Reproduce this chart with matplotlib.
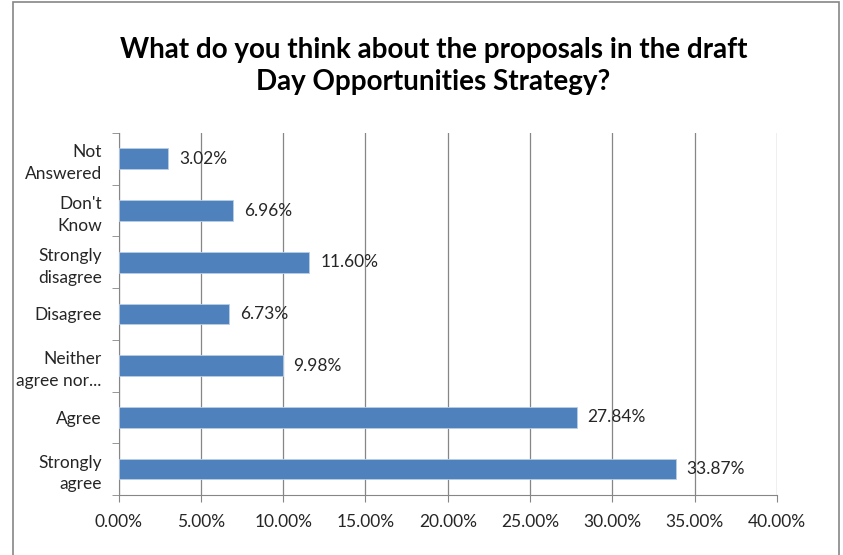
import matplotlib.pyplot as plt
from matplotlib.patches import Rectangle
import numpy as np

categories = ['Strongly\nagree', 'Agree', 'Neither\nagree nor...', 'Disagree',
              'Strongly\ndisagree', "Don't\nKnow", 'Not\nAnswered']
values = [33.87, 27.84, 9.98, 6.73, 11.60, 6.96, 3.02]
xticks = [0, 5, 10, 15, 20, 25, 30, 35, 40]

plt.rcParams['font.family'] = ['Lato', 'DejaVu Sans']

fig = plt.figure(figsize=(8.43, 5.55), dpi=100)
ax = fig.add_axes([0.1406, 0.1081, 0.7811, 0.6523])

# chart border like the Excel frame
fig.patches.append(Rectangle((13 / 843, -0.01), (839 - 13) / 843, 1 - 2 / 555 + 0.01,
                             transform=fig.transFigure, fill=False,
                             edgecolor='#868686', linewidth=1.2))

y = np.arange(len(categories))
ax.barh(y, values, height=0.4, color='#4F81BD', edgecolor='#B9CDE5', linewidth=0.6, zorder=3)

for yi, v in zip(y, values):
    ax.text(v + 0.65, yi, '{:.2f}%'.format(v), va='center', ha='left',
            fontsize=12.5, color='#262626', zorder=4)

ax.set_xlim(0, 40)
ax.set_ylim(-0.5, len(categories) - 0.5)
ax.set_xticks(xticks)
ax.set_xticklabels(['{:.2f}%'.format(t) for t in xticks], fontsize=12.5, color='#262626')
ax.set_yticks(y)
ax.set_yticklabels(categories, fontsize=12.5, color='#262626', linespacing=1.45)
ax.set_yticks(np.arange(len(categories) + 1) - 0.5, minor=True)
ax.tick_params(axis='y', which='major', length=0, pad=12)
ax.tick_params(axis='y', which='minor', length=5, color='#868686', direction='out')
ax.tick_params(axis='x', length=5, color='#868686', pad=9)

ax.grid(axis='x', color='#868686', linewidth=0.9, zorder=0)
for s in ['top', 'right']:
    ax.spines[s].set_visible(False)
for s in ['left', 'bottom']:
    ax.spines[s].set_color('#868686')

fig.text(0.514, 0.881, 'What do you think about the proposals in the draft\nDay Opportunities Strategy?',
         ha='center', va='center', fontsize=20, fontweight='bold', color='black', linespacing=1.3)

fig.savefig('out.png', dpi=100)
